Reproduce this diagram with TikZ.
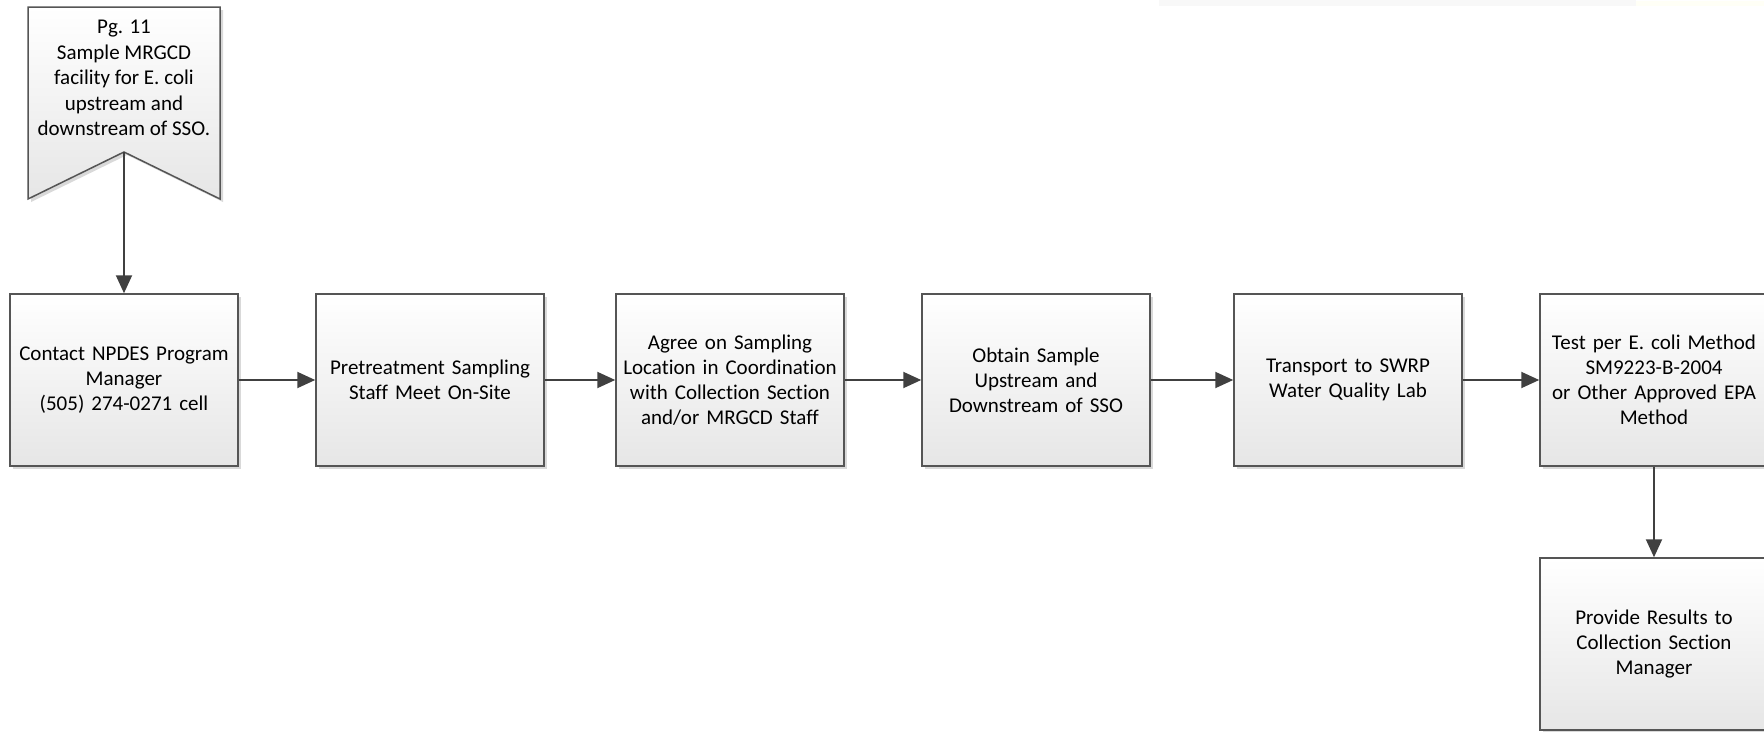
\documentclass[tikz,border=0pt]{standalone}
\usepackage{fontspec}
\setmainfont{Carlito}[Ligatures=NoCommon]
\usetikzlibrary{arrows.meta,shadows}
\definecolor{edge}{RGB}{85,85,85}
\definecolor{arrowc}{RGB}{64,64,64}
\definecolor{shadebot}{RGB}{230,230,230}
\definecolor{topbar}{RGB}{248,248,248}
\definecolor{topyel}{RGB}{255,255,246}
\tikzset{
  boxshape/.style={draw=edge, line width=1.5pt, top color=white, bottom color=shadebot,
    drop shadow={shadow xshift=3pt, shadow yshift=-3pt, fill=black!25, opacity=0.6}},
  stepbox/.style={boxshape, rectangle, minimum width=228pt, minimum height=172pt,
    inner sep=0pt, align=center, text width=226pt, font=\fontsize{21}{25}\selectfont},
  bannertext/.style={align=center, inner sep=0pt, font=\fontsize{21}{25.5}\selectfont},
  arr/.style={draw=arrowc, line width=2pt, -{Triangle[length=18pt,width=16pt]}}
}
\begin{document}
\begin{tikzpicture}[x=1pt,y=-1pt]
\useasboundingbox (0,0) rectangle (1764,731);
% faint top bars
\fill[topbar] (1159,0) rectangle (1636,6);
\fill[topyel] (1636,1) rectangle (1764,6);
% banner
\path[boxshape] (28,7) -- (220,7) -- (220,199) -- (124,152) -- (28,199) -- cycle;
\node[bannertext] (banner) at (124,78) {Pg. 11\\Sample MRGCD\\facility for E. coli\\upstream and\\downstream of SSO.};
\coordinate (notch) at (124,152);
% boxes
\node[stepbox] (b1) at (124,380) {Contact NPDES Program\\Manager\\(505) 274-0271 cell};
\node[stepbox] (b2) at (430,380) {Pretreatment Sampling\\Staff Meet On-Site};
\node[stepbox] (b3) at (730,380) {Agree on Sampling\\Location in Coordination\\with Collection Section\\and/or MRGCD Staff};
\node[stepbox] (b4) at (1036,380) {Obtain Sample\\Upstream and\\Downstream of SSO};
\node[stepbox] (b5) at (1348,380) {Transport to SWRP\\Water Quality Lab};
\node[stepbox] (b6) at (1654,380) {Test per E. coli Method\\SM9223-B-2004\\or Other Approved EPA\\Method};
\node[stepbox] (b7) at (1654,644) {Provide Results to\\Collection Section\\Manager};
% connectors
\draw[arr] (notch) -- (b1.north);
\draw[arr] (b1) -- (b2);
\draw[arr] (b2) -- (b3);
\draw[arr] (b3) -- (b4);
\draw[arr] (b4) -- (b5);
\draw[arr] (b5) -- (b6);
\draw[arr] (b6) -- (b7);
\end{tikzpicture}
\end{document}
